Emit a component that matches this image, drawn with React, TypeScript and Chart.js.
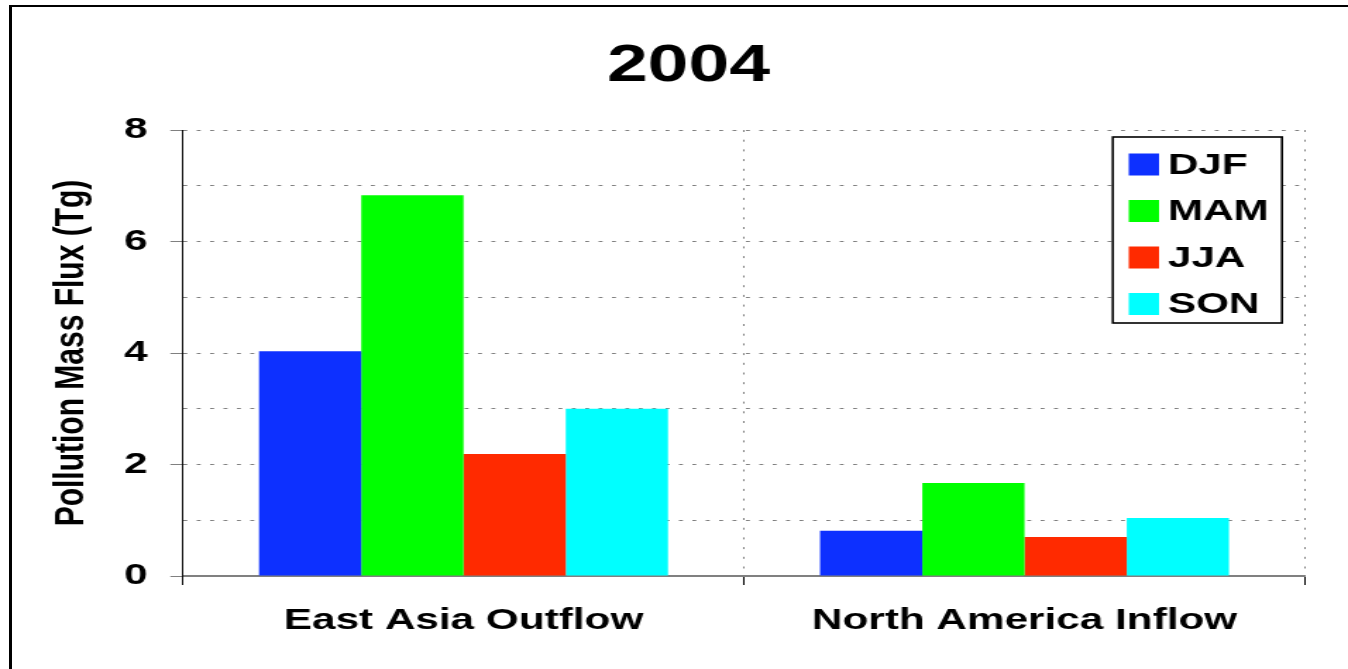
import React, { useEffect, useRef } from "react";
import { Chart, registerables } from "chart.js";

Chart.register(...registerables);

const categories = ["East Asia Outflow", "North America Inflow"];
const seasonLabels = ["DJF", "MAM", "JJA", "SON"];
const djfValues = [4.03, 0.81];
const mamValues = [6.83, 1.67];
const jjaValues = [2.19, 0.7];
const sonValues = [3.0, 1.04];
const seasonColors = ["#0d30ff", "#00ff00", "#ff2a00", "#00ffff"];
const yTickValues = [0, 2, 4, 6, 8];
const chartTitle = "2004";
const yAxisTitle = "Pollution Mass Flux (Tg)";

const FONT = "'Liberation Sans', Arial, Helvetica, sans-serif";
const W = 956; // internal canvas width, stretched to 1348 by CSS
const H = 669;

const boxedLegend = {
  id: "boxedLegend",
  afterDraw(chart: any) {
    const { ctx, chartArea } = chart;
    const w = 120;
    const h = 186;
    const x0 = chartArea.right - 16.3 - w;
    const y0 = chartArea.top + 7;
    ctx.save();
    ctx.fillStyle = "#ffffff";
    ctx.fillRect(x0, y0, w, h);
    ctx.strokeStyle = "#000000";
    ctx.lineWidth = 1.6;
    ctx.strokeRect(x0, y0, w, h);
    ctx.font = `bold 30px ${FONT}`;
    ctx.textBaseline = "middle";
    ctx.textAlign = "left";
    chart.data.datasets.forEach((ds: any, i: number) => {
      const cy = y0 + 27.5 + i * 46.5;
      ctx.fillStyle = ds.backgroundColor;
      ctx.fillRect(x0 + 11.3, cy - 11, 21.5, 22);
      ctx.fillStyle = "#000000";
      ctx.fillText(ds.label, x0 + 39, cy + 1);
    });
    ctx.restore();
  },
};

export default function App() {
  const ref = useRef<HTMLCanvasElement | null>(null);

  useEffect(() => {
    if (!ref.current) return;
    const seriesValues = [djfValues, mamValues, jjaValues, sonValues];
    const chart = new Chart(ref.current, {
      type: "bar",
      data: {
        labels: categories,
        datasets: seasonLabels.map((label, i) => ({
          label,
          data: seriesValues[i],
          backgroundColor: seasonColors[i],
          borderWidth: 0,
          categoryPercentage: 0.729,
          barPercentage: 1,
        })),
      },
      options: {
        animation: false,
        responsive: false,
        devicePixelRatio: 1,
        layout: { padding: { left: 51, right: 30.5, top: 0, bottom: 0 } },
        plugins: {
          legend: { display: false },
          tooltip: { enabled: false },
          title: {
            display: true,
            text: chartTitle,
            color: "#000000",
            font: { family: FONT, size: 52, weight: "bold", lineHeight: 1.2 },
            padding: { top: 35, bottom: 32.6 },
          },
        },
        scales: {
          x: {
            offset: true,
            grid: {
              offset: true,
              color: "#808080",
              lineWidth: 1,
              tickColor: "#000000",
              tickLength: 9,
              drawTicks: true,
            },
            border: { display: true, color: "#808080", width: 2, dash: [2, 7.7] },
            ticks: {
              color: "#000000",
              padding: 18,
              font: { family: FONT, size: 30, weight: "bold", lineHeight: 1.2 },
            },
            afterFit: (scale: any) => {
              scale.height = 93;
            },
          },
          y: {
            min: 0,
            max: 8,
            ticks: {
              stepSize: 1,
              color: "#000000",
              padding: 16,
              font: { family: FONT, size: 30, weight: "bold" },
              callback: (v: any) => (yTickValues.includes(Number(v)) ? String(v) : ""),
            },
            grid: {
              color: "#808080",
              lineWidth: 1,
              tickLength: 9,
              tickColor: (c: any) =>
                c.tick && yTickValues.includes(c.tick.value) ? "#808080" : "rgba(0,0,0,0)",
            },
            border: { display: true, color: "#000000", width: 1, dash: [2.8, 6.7] },
            title: {
              display: true,
              text: yAxisTitle,
              color: "#000000",
              font: { family: FONT, size: 30, weight: "bold", lineHeight: 1.2 },
              padding: { top: -18.6, bottom: 0 },
            },
            afterFit: (scale: any) => {
              scale.width = 78.8;
            },
          },
        },
      },
      plugins: [boxedLegend],
    });
    return () => chart.destroy();
  }, []);

  return (
    <div
      style={{
        position: "fixed",
        left: 0,
        top: 0,
        width: "1348px",
        height: "669px",
        overflow: "hidden",
        background: "#ffffff",
      }}
    >
      <canvas
        ref={ref}
        width={W}
        height={H}
        style={{ position: "absolute", left: 0, top: 0, width: "1348px", height: "669px" }}
      />
      <div
        style={{
          position: "absolute",
          left: "9px",
          top: "5px",
          width: "2000px",
          height: "2000px",
          borderLeft: "3px solid #000",
          borderTop: "2px solid #000",
          pointerEvents: "none",
        }}
      />
    </div>
  );
}
